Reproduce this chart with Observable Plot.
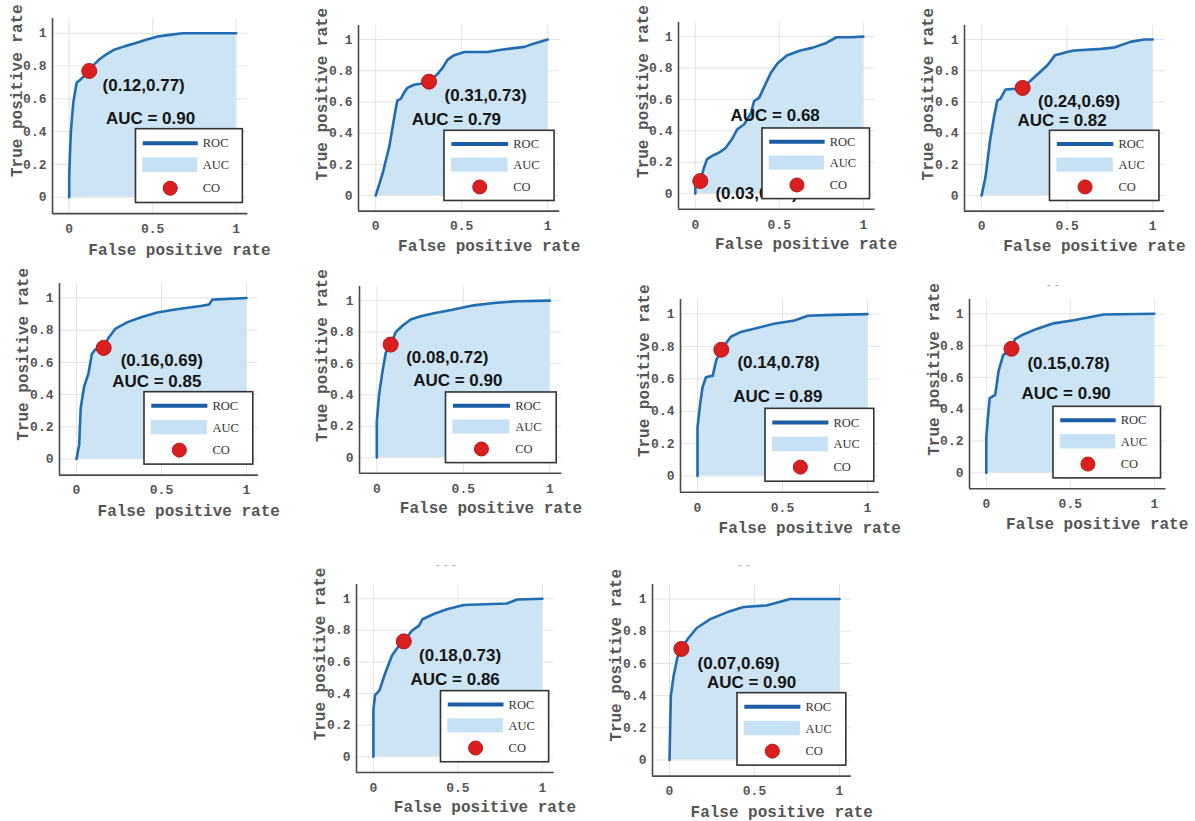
<!DOCTYPE html>
<html><head><meta charset="utf-8">
<script src="https://cdn.jsdelivr.net/npm/d3@7"></script>
<script src="https://cdn.jsdelivr.net/npm/@observablehq/plot@0.6"></script>
<style>
html,body{margin:0;padding:0;background:#fff;}
#wrap{position:relative;width:1195px;height:821px;overflow:hidden;background:#fff;}
#wrap svg{position:absolute;}
.crop{position:absolute;font:10px "Liberation Sans",Arial,sans-serif;color:#999;letter-spacing:1px;}
</style></head><body><div id="wrap"></div>
<script>
// ROC curves: [false positive rate, true positive rate]
const roc1 = [[0,0],[0,0.12],[0.005,0.28],[0.01,0.40],[0.018,0.50],[0.025,0.58],[0.035,0.64],[0.045,0.70],[0.07,0.72],[0.09,0.74],[0.12,0.77],[0.15,0.81],[0.18,0.84],[0.22,0.87],[0.27,0.90],[0.33,0.92],[0.40,0.94],[0.46,0.96],[0.53,0.98],[0.60,0.99],[0.68,1.0],[0.80,1.0],[1,1]];
const roc2 = [[0,0],[0.04,0.14],[0.08,0.32],[0.10,0.45],[0.117,0.56],[0.126,0.61],[0.146,0.62],[0.165,0.66],[0.184,0.69],[0.223,0.71],[0.28,0.72],[0.31,0.73],[0.36,0.78],[0.39,0.82],[0.417,0.87],[0.456,0.90],[0.515,0.92],[0.65,0.92],[0.73,0.935],[0.864,0.953],[0.922,0.974],[1,1]];
const roc3 = [[0,0],[0,0.04],[0.03,0.08],[0.05,0.16],[0.07,0.22],[0.10,0.24],[0.14,0.26],[0.18,0.29],[0.22,0.35],[0.25,0.41],[0.29,0.44],[0.33,0.51],[0.35,0.59],[0.38,0.61],[0.41,0.68],[0.45,0.77],[0.49,0.83],[0.545,0.88],[0.62,0.91],[0.70,0.93],[0.78,0.96],[0.84,0.996],[0.92,0.996],[1,1]];
const roc4 = [[0,0],[0.023,0.12],[0.049,0.35],[0.072,0.50],[0.092,0.61],[0.11,0.62],[0.14,0.68],[0.20,0.685],[0.24,0.69],[0.31,0.76],[0.385,0.835],[0.43,0.90],[0.50,0.92],[0.54,0.93],[0.70,0.94],[0.78,0.95],[0.87,0.985],[0.95,1.0],[1,1]];
const roc5 = [[0,0],[0.016,0.09],[0.02,0.20],[0.025,0.32],[0.045,0.45],[0.07,0.53],[0.09,0.65],[0.11,0.68],[0.155,0.69],[0.19,0.755],[0.23,0.81],[0.30,0.85],[0.38,0.88],[0.475,0.91],[0.59,0.93],[0.73,0.95],[0.78,0.96],[0.80,0.99],[1,1]];
const roc6 = [[0,0],[0,0.23],[0.013,0.40],[0.033,0.55],[0.052,0.67],[0.08,0.72],[0.11,0.80],[0.148,0.84],[0.196,0.88],[0.254,0.90],[0.33,0.92],[0.43,0.94],[0.56,0.97],[0.677,0.985],[0.81,0.996],[1,1]];
const roc7 = [[0,0],[0,0.30],[0.016,0.45],[0.03,0.55],[0.05,0.61],[0.09,0.62],[0.11,0.715],[0.14,0.78],[0.196,0.86],[0.255,0.89],[0.333,0.91],[0.45,0.94],[0.57,0.96],[0.65,0.99],[0.80,0.995],[1,1]];
const roc8 = [[0,0],[0,0.22],[0.008,0.33],[0.02,0.47],[0.053,0.49],[0.073,0.64],[0.10,0.74],[0.15,0.78],[0.17,0.84],[0.22,0.87],[0.30,0.905],[0.40,0.94],[0.52,0.96],[0.70,0.996],[1,1]];
const roc9 = [[0,0],[0,0.30],[0.01,0.39],[0.036,0.42],[0.07,0.53],[0.11,0.64],[0.15,0.70],[0.18,0.73],[0.23,0.80],[0.27,0.83],[0.29,0.87],[0.36,0.905],[0.44,0.935],[0.535,0.96],[0.79,0.97],[0.85,0.995],[1,1]];
const roc10 = [[0,0],[0.004,0.21],[0.008,0.40],[0.024,0.52],[0.047,0.64],[0.07,0.69],[0.106,0.75],[0.16,0.82],[0.24,0.875],[0.337,0.917],[0.435,0.95],[0.57,0.96],[0.71,1.0],[1,1]];
const rocs = [roc1,roc2,roc3,roc4,roc5,roc6,roc7,roc8,roc9,roc10];

const aucValues = [0.90,0.79,0.68,0.82,0.85,0.90,0.89,0.90,0.86,0.90];
const cutoffs = [[0.12,0.77],[0.31,0.73],[0.03,0.08],[0.24,0.69],[0.16,0.69],[0.08,0.72],[0.14,0.78],[0.15,0.78],[0.18,0.73],[0.07,0.69]];
const xTicks = [0,0.5,1];
const yTicks = [0,0.2,0.4,0.6,0.8,1];
const legendLabels = ["ROC","AUC","CO"];
const xAxisLabel = "False positive rate";
const yAxisLabel = "True positive rate";

// ---- layout (pixels on the page of x=0, x=1, y=0, y=1 for each panel) ----
const frames = [
  [69,236,197,33],[375,547,195,39],[695,863,193,36],[981,1152,195,39],
  [76,246,458,297],[376,549,457,300],[697,867,476,314],[986,1154,472,313],
  [373,542,756,598],[669,839,759,598]
];
// annotation anchor positions in data units: [cutoff label x,y, auc label x,y]
const notePos = [
  [0.20,0.68,0.22,0.48],[0.40,0.64,0.21,0.49],[0.12,0.0,0.21,0.50],[0.33,0.60,0.21,0.48],
  [0.26,0.61,0.21,0.48],[0.17,0.64,0.21,0.49],[0.235,0.70,0.21,0.49],[0.245,0.69,0.21,0.50],
  [0.27,0.64,0.22,0.49],[0.165,0.60,0.22,0.48]
];
const legendBox = {x1:0.40, x2:1.04, y1:-0.035, y2:0.415, sx1:0.44, sx2:0.77, tx:0.80, ys:[0.33,0.195,0.055], sw:[0.15,0.24]};
const cropMarks = [[1047,279,"- -"],[436,559,"- - -"],[738,559,"- -"]];

const XD = [-0.1,1.07], YD = [-0.1,1.09];
const ML = 62, MT = 28, MR = 50, MB = 58;
const lineColor = "#1f6db2", fillColor = "#cce4f4", dotColor = "#d91f1f";
const mono = "'Liberation Mono','Courier New',monospace";
const sans = "'Liberation Sans',Arial,sans-serif";
const serif = "'Liberation Serif','Times New Roman',serif";

const wrap = document.getElementById("wrap");

rocs.forEach((roc, i) => {
  const [px0,px1,py0,py1] = frames[i];
  const sx = px1-px0, sy = py0-py1;
  const fw = (XD[1]-XD[0])*sx, fh = (YD[1]-YD[0])*sy;
  const fl = px0 + XD[0]*sx, ft = py0 - YD[1]*sy;
  const data = roc.map(([fpr,tpr]) => ({fpr,tpr}));
  const [cx,cy] = cutoffs[i];
  const np = notePos[i];
  const notes = [
    {x:np[0], y:np[1], t:`(${cx.toFixed(2)},${cy.toFixed(2)})`},
    {x:np[2], y:np[3], t:`AUC = ${aucValues[i].toFixed(2)}`}
  ];
  const L = legendBox;
  const svg = Plot.plot({
    width: fw+ML+MR, height: fh+MT+MB,
    marginLeft: ML, marginTop: MT, marginRight: MR, marginBottom: MB,
    x: {domain: XD}, y: {domain: YD},
    style: {background: "transparent", overflow: "visible"},
    marks: [
      Plot.gridX(xTicks, {stroke: "#dcdcdc", strokeOpacity: 1, strokeWidth: 0.8}),
      Plot.gridY(yTicks, {stroke: "#dcdcdc", strokeOpacity: 1, strokeWidth: 0.8}),
      Plot.areaY(data, {x: "fpr", y: "tpr", fill: fillColor}),
      Plot.line(data, {x: "fpr", y: "tpr", stroke: lineColor, strokeWidth: 2.6}),
      Plot.dot([cutoffs[i]], {x: d=>d[0], y: d=>d[1], r: 7.5, fill: dotColor, stroke: "#b81515", strokeWidth: 1}),
      Plot.text(notes, {x: "x", y: "y", text: "t", textAnchor: "start", fontFamily: sans, fontWeight: "bold", fontSize: 17, fill: "#151515"}),
      // legend
      Plot.rect([L], {x1: "x1", x2: "x2", y1: "y1", y2: "y2", fill: "white", stroke: "#333", strokeWidth: 1.6}),
      Plot.link([L], {x1: "sx1", x2: "sx2", y1: d=>d.ys[0], y2: d=>d.ys[0], stroke: "#1b5ea6", strokeWidth: 4}),
      Plot.rect([L], {x1: "sx1", x2: "sx2", y1: d=>d.sw[0], y2: d=>d.sw[1], fill: "#c6e1f3"}),
      Plot.dot([L], {x: d=>(d.sx1+d.sx2)/2, y: d=>d.ys[2], r: 7, fill: dotColor, stroke: "#b81515", strokeWidth: 1}),
      Plot.text(legendLabels, {x: L.tx, y: (d,j)=>L.ys[j], text: d=>d, textAnchor: "start", fontFamily: serif, fontSize: 12.5, fill: "#333"}),
      // axes
      Plot.ruleX([XD[0]], {stroke: "#4a4a4a", strokeWidth: 1.6}),
      Plot.ruleY([YD[0]], {stroke: "#4a4a4a", strokeWidth: 1.6}),
      Plot.axisX(xTicks, {tickSize: 0, tickPadding: 10, tickFormat: d=>String(d), label: null, fontFamily: mono, fontSize: 13, fontWeight: "bold", fill: "#555"}),
      Plot.axisY(yTicks, {tickSize: 0, tickPadding: 6, tickFormat: d=>String(d), label: null, fontFamily: mono, fontSize: 13, fontWeight: "bold", fill: "#555"}),
      Plot.text([xAxisLabel], {x: 0.66, y: -0.32, text: d=>d, fontFamily: mono, fontSize: 16, fontWeight: "bold", fill: "#555"}),
      Plot.text([yAxisLabel], {x: -0.315, y: 0.65, text: d=>d, rotate: -90, fontFamily: mono, fontSize: 16, fontWeight: "bold", fill: "#555"})
    ]
  });
  svg.style.left = (fl-ML)+"px";
  svg.style.top = (ft-MT)+"px";
  wrap.appendChild(svg);
});

cropMarks.forEach(([x,y,t]) => {
  const d = document.createElement("div");
  d.className = "crop";
  d.style.left = x+"px"; d.style.top = y+"px";
  d.textContent = t;
  wrap.appendChild(d);
});
</script></body></html>
